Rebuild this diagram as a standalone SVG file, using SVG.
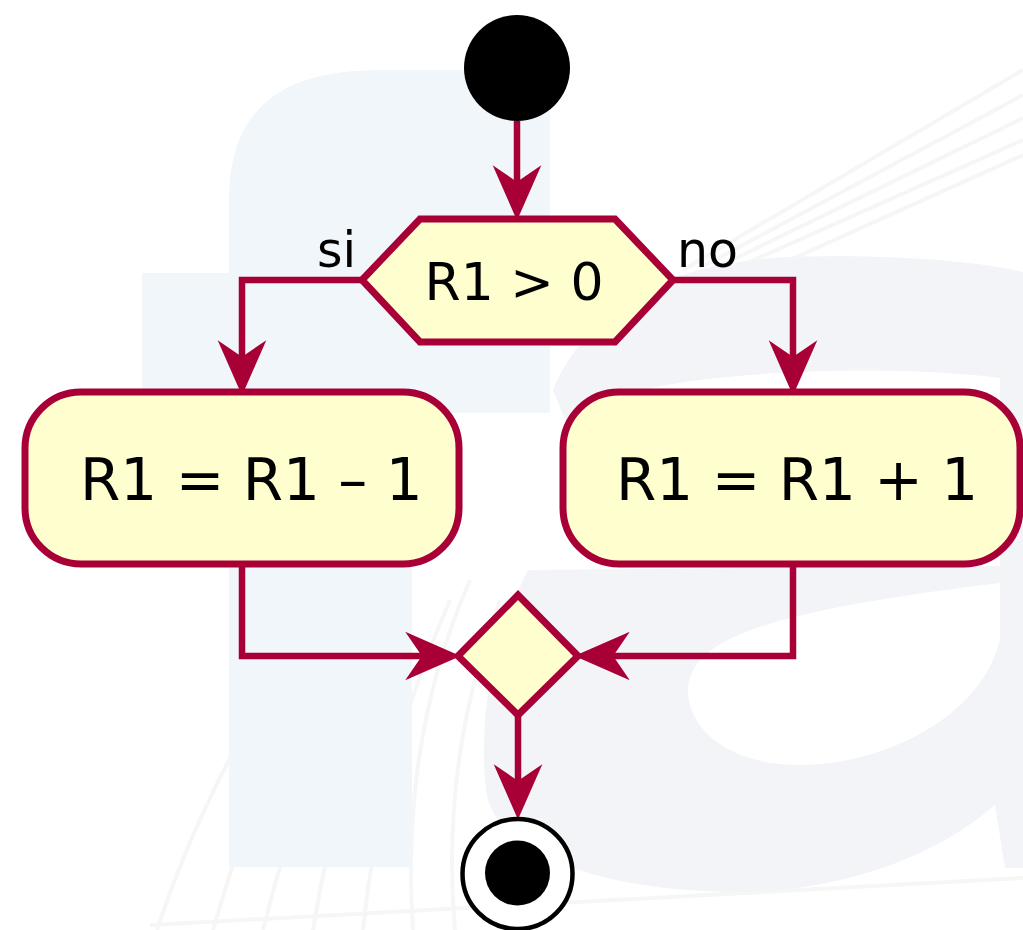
<svg xmlns="http://www.w3.org/2000/svg" width="1023" height="930" viewBox="0 0 1023 930">
  <style>
    .edge { fill: none; stroke: #A80036; stroke-width: 6.5; stroke-linejoin: miter; }
    .head { fill: #A80036; stroke: #A80036; stroke-width: 2; stroke-linejoin: miter; }
    .shape { fill: #FEFECE; stroke: #A80036; stroke-width: 7; }
    .txt { font-family: "DejaVu Sans", sans-serif; fill: #000000; }
    .big { font-size: 58px; }
    .mid { font-size: 52px; }
    .lbl { font-size: 49px; }
    .hatch { fill: none; stroke: #f6f6f6; stroke-width: 4; }
  </style>
  <defs>
    <!-- arrowhead pointing down, tip at the origin -->
    <path id="ah" d="M0,0 L-22,-50 L0,-35 L22,-50 Z"/>
  </defs>

  <!-- background -->
  <rect x="0" y="0" width="1023" height="930" fill="#ffffff"/>

  <!-- faint background strokes -->
  <g id="backdrop-lines">
    <path class="hatch" d="M683,270 L1023,70 M700,268 L1023,95 M720,266 L1023,118 M745,264 L1023,140 M790,260 L1023,155"/>
    <path class="hatch" d="M157,930 Q190,830 240,740 M213,930 Q250,800 300,700 M263,930 Q300,780 360,660 M313,930 Q340,760 410,620 M363,930 Q380,760 450,600 M413,930 Q400,740 470,580 M455,930 Q440,760 500,600"/>
    <path class="hatch" d="M150,925 L1023,878"/>
  </g>

  <!-- faint logo shapes -->
  <g id="backdrop-logo">
    <path fill="#f1f6fb" d="M229,867 L229,200 C229,110 280,70 380,70 L550,70 L550,273 L550,413 L412,413 L412,867 Z M142,273 L229,273 L229,413 L142,413 Z"/>
    <path fill="#f2f4f8" fill-rule="evenodd" d="M553,390 C590,305 670,262 790,257 C900,254 980,262 1023,272 L1023,868 L1005,868 L995,805 C930,862 830,893 730,892 C610,890 495,858 486,790 C478,720 492,640 528,570 L1000,566 L1000,378 C900,366 780,370 700,380 C640,388 590,400 565,420 Z M688,690 C690,640 760,612 1000,583 L1000,640 C980,720 880,765 800,765 C730,765 688,730 688,690 Z"/>
  </g>

  <!-- connectors -->
  <g id="connectors">
    <path class="edge" d="M517,121 L517,190"/>
    <use href="#ah" class="head" transform="translate(517,218)"/>

    <path class="edge" d="M362,280 L242,280 L242,365"/>
    <use href="#ah" class="head" transform="translate(242,393)"/>

    <path class="edge" d="M673,280 L793,280 L793,365"/>
    <use href="#ah" class="head" transform="translate(793,393)"/>

    <path class="edge" d="M242,564 L242,656 L430,656"/>
    <use href="#ah" class="head" transform="translate(458,656) rotate(-90)"/>

    <path class="edge" d="M793,564 L793,656 L605,656"/>
    <use href="#ah" class="head" transform="translate(577,656) rotate(90)"/>

    <path class="edge" d="M518,715 L518,789"/>
    <use href="#ah" class="head" transform="translate(518,817)"/>

    <text class="txt lbl" x="317" y="267">si</text>
    <text class="txt lbl" x="677" y="267">no</text>
  </g>

  <!-- start -->
  <g id="start">
    <circle cx="517" cy="68" r="53" fill="#000000"/>
  </g>

  <!-- decision -->
  <g id="decision">
    <polygon class="shape" points="362,280 420,219 615,219 673,280 615,342 420,342"/>
    <text class="txt mid" x="514" y="300" text-anchor="middle">R1 &gt; 0</text>
  </g>

  <!-- branch actions -->
  <g id="decrement">
    <rect class="shape" x="25" y="392" width="434" height="172" rx="56" ry="56"/>
    <text class="txt big" x="80" y="500">R1 = R1 – 1</text>
  </g>
  <g id="increment">
    <rect class="shape" x="563" y="392" width="457" height="172" rx="56" ry="56"/>
    <text class="txt big" x="616" y="500">R1 = R1 + 1</text>
  </g>

  <!-- merge -->
  <g id="merge">
    <polygon class="shape" points="518,595 578,656 518,715 458,656"/>
  </g>

  <!-- end -->
  <g id="end">
    <circle cx="517.5" cy="874" r="55" fill="#ffffff" stroke="#000000" stroke-width="4.5"/>
    <circle cx="517.5" cy="873" r="32.5" fill="#000000"/>
  </g>
</svg>
